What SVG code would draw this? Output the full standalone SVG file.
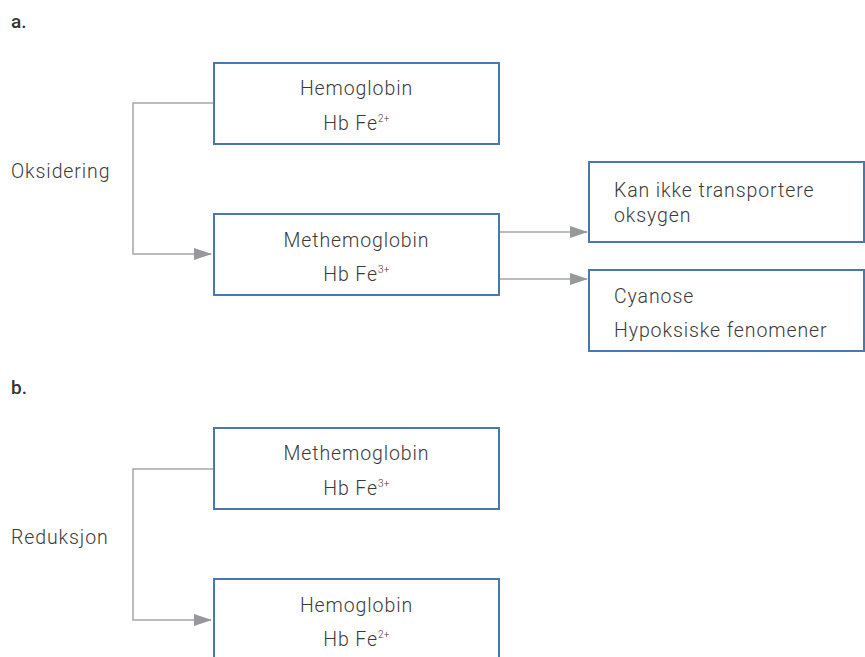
<svg xmlns="http://www.w3.org/2000/svg" width="865" height="657" viewBox="0 0 865 657">
<defs>
<style>
.box{fill:#fff;stroke:#4a78ab;stroke-width:2}
.t{font-family:Roboto,"Liberation Sans",Arial,sans-serif;font-weight:300;font-size:19.5px;fill:#3a3a3a;letter-spacing:0.9px}
.c{text-anchor:middle}
.sup{font-size:10px;letter-spacing:0.3px}
.h{font-family:Roboto,"Liberation Sans",Arial,sans-serif;font-size:19px;font-weight:500;fill:#333}
.ln{fill:none;stroke:#a6a6a6;stroke-width:1.5}
</style>
<marker id="ah" markerWidth="18" markerHeight="12" refX="17" refY="6" orient="auto" markerUnits="userSpaceOnUse">
<path d="M0,0 L18,6 L0,12 Z" fill="#96989c"/>
</marker>
</defs>
<rect width="865" height="657" fill="#fff"/>
<text class="h" x="11" y="28">a.</text>
<text class="t" x="11" y="178">Oksidering</text>
<text class="h" x="11" y="394">b.</text>
<text class="t" x="11" y="544">Reduksjon</text>
<g id="connectors">
<polyline class="ln" points="214,103 133,103 133,254 211,254" marker-end="url(#ah)"/>
<line class="ln" x1="499" y1="232" x2="587" y2="232" marker-end="url(#ah)"/>
<line class="ln" x1="499" y1="279" x2="587" y2="279" marker-end="url(#ah)"/>
<polyline class="ln" points="214,469 133,469 133,620 211,620" marker-end="url(#ah)"/>
</g>
<g id="a-hemoglobin">
<rect class="box" x="214" y="63" width="285" height="81"/>
<text class="t c" x="356.5" y="95">Hemoglobin</text>
<text class="t c" x="356.5" y="130">Hb Fe<tspan class="sup" dy="-8">2+</tspan></text>
</g>
<g id="a-methemoglobin">
<rect class="box" x="214" y="214" width="285" height="81"/>
<text class="t c" x="356.5" y="247">Methemoglobin</text>
<text class="t c" x="356.5" y="281">Hb Fe<tspan class="sup" dy="-8">3+</tspan></text>
</g>
<g id="a-transport">
<rect class="box" x="589" y="162" width="275" height="80"/>
<text class="t" x="614" y="197">Kan ikke transportere</text>
<text class="t" x="614" y="222">oksygen</text>
</g>
<g id="a-cyanose">
<rect class="box" x="589" y="270" width="275" height="81"/>
<text class="t" x="614" y="303">Cyanose</text>
<text class="t" x="614" y="337">Hypoksiske fenomener</text>
</g>
<g id="b-methemoglobin">
<rect class="box" x="214" y="428" width="285" height="81"/>
<text class="t c" x="356.5" y="460">Methemoglobin</text>
<text class="t c" x="356.5" y="495">Hb Fe<tspan class="sup" dy="-8">3+</tspan></text>
</g>
<g id="b-hemoglobin">
<rect class="box" x="214" y="579" width="285" height="90"/>
<text class="t c" x="356.5" y="612">Hemoglobin</text>
<text class="t c" x="356.5" y="646">Hb Fe<tspan class="sup" dy="-8">2+</tspan></text>
</g>
</svg>
